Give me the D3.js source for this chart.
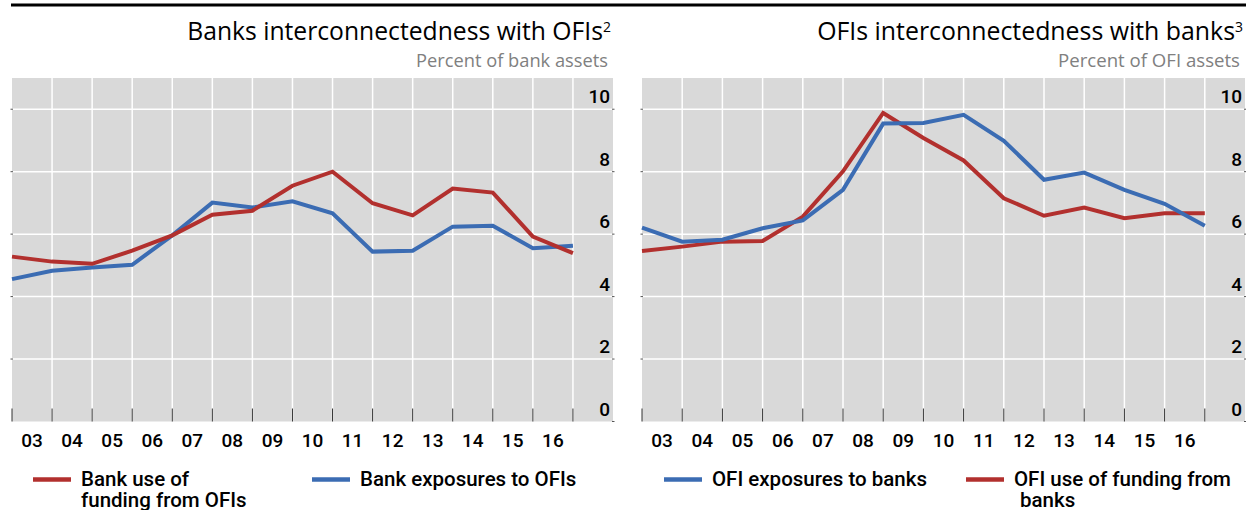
<!DOCTYPE html>
<html>
<head>
<meta charset="utf-8">
<script src="https://cdn.jsdelivr.net/npm/d3@7"></script>
<style>
  html, body { margin: 0; padding: 0; background: #ffffff; }
  svg { display: block; }
  text { font-family: Roboto, "Noto Sans", sans-serif; }
  .ttl { font-family: "Open Sans", "Noto Sans", sans-serif; }
</style>
</head>
<body>
<svg id="chart" width="1246" height="510"></svg>
<script>
// ---- data ----
const years = [2003, 2004, 2005, 2006, 2007, 2008, 2009, 2010, 2011, 2012, 2013, 2014, 2015, 2016, 2017];
const yearLabels = ["03", "04", "05", "06", "07", "08", "09", "10", "11", "12", "13", "14", "15", "16"];
const yTicks = [0, 2, 4, 6, 8, 10];

const bankUseOfFunding = [5.28, 5.12, 5.05, 5.47, 5.96, 6.62, 6.75, 7.55, 8.00, 6.99, 6.60, 7.46, 7.33, 5.92, 5.39];
const bankExposures    = [4.56, 4.83, 4.93, 5.02, 5.96, 7.01, 6.85, 7.05, 6.67, 5.44, 5.47, 6.24, 6.27, 5.55, 5.63];
const ofiExposures     = [6.21, 5.76, 5.82, 6.19, 6.44, 7.42, 9.54, 9.56, 9.82, 8.99, 7.74, 7.97, 7.42, 6.97, 6.27];
const ofiUseOfFunding  = [5.46, 5.60, 5.76, 5.78, 6.56, 8.01, 9.88, 9.08, 8.36, 7.15, 6.59, 6.85, 6.51, 6.67, 6.67];

const RED = "#b2302e";
const BLUE = "#3b6cb3";

const svg = d3.select("#chart");

// top rule
svg.append("line")
  .attr("x1", 11).attr("x2", 1246).attr("y1", 5).attr("y2", 5)
  .attr("stroke", "#000").attr("stroke-width", 3);

const panels = [
  {
    left: 12, right: 613,
    title: "Banks interconnectedness with OFIs", sup: "2",
    subtitle: "Percent of bank assets",
    titleWidth: 416, subWidth: 192,
    series: [
      { values: bankExposures, color: BLUE },
      { values: bankUseOfFunding, color: RED }
    ],
    legend: [
      { lines: ["Bank use of", "funding from OFIs"], color: RED, x: 33, indent: 0 },
      { lines: ["Bank exposures to OFIs"], color: BLUE, x: 312, indent: 0 }
    ]
  },
  {
    left: 642, right: 1245,
    title: "OFIs interconnectedness with banks", sup: "3",
    subtitle: "Percent of OFI assets",
    titleWidth: 418, subWidth: 182,
    series: [
      { values: ofiUseOfFunding, color: RED },
      { values: ofiExposures, color: BLUE }
    ],
    legend: [
      { lines: ["OFI exposures to banks"], color: BLUE, x: 664, indent: 0 },
      { lines: ["OFI use of funding from", "banks"], color: RED, x: 966, indent: 6 }
    ]
  }
];

const plotTop = 78, plotBottom = 421.5;

function fitFont(sel, base, target) {
  sel.attr("font-size", base);
  const w = sel.node().getComputedTextLength();
  if (w > 0) sel.attr("font-size", Math.max(base * 0.8, Math.min(base * 1.25, base * target / w)));
}

panels.forEach(p => {
  const g = svg.append("g");
  const x = d3.scaleLinear().domain([2003, 2018]).range([p.left, p.right]);
  const y = d3.scaleLinear().domain([0, 11]).range([plotBottom, plotTop]);

  // background
  g.append("rect")
    .attr("x", x(2003)).attr("y", y(11))
    .attr("width", x(2018) - x(2003)).attr("height", y(0) - y(11))
    .attr("fill", "#d9d9d9");

  // horizontal gridlines
  g.selectAll(".hg").data(yTicks.filter(v => v > 0)).join("line")
    .attr("x1", x(2003)).attr("x2", x(2018))
    .attr("y1", d => y(d)).attr("y2", d => y(d))
    .attr("stroke", "#ffffff").attr("stroke-width", 1.5);

  // vertical gridlines
  g.selectAll(".vg").data(years.slice(1)).join("line")
    .attr("x1", d => x(d)).attr("x2", d => x(d))
    .attr("y1", y(11)).attr("y2", y(0))
    .attr("stroke", "#ffffff").attr("stroke-width", 1.5);

  // small edge ticks at gridlines
  g.selectAll(".lt").data(yTicks.filter(v => v > 0)).join("line")
    .attr("x1", x(2003) - 1.5).attr("x2", x(2003) + 1)
    .attr("y1", d => y(d)).attr("y2", d => y(d))
    .attr("stroke", "#555").attr("stroke-width", 1);
  g.selectAll(".rt").data(yTicks).join("line")
    .attr("x1", x(2018) - 1).attr("x2", x(2018) + 1.5)
    .attr("y1", d => y(d)).attr("y2", d => y(d))
    .attr("stroke", "#555").attr("stroke-width", 1);

  // bottom tick marks
  g.selectAll(".bt").data(years).join("line")
    .attr("x1", d => x(d)).attr("x2", d => x(d))
    .attr("y1", y(0) - 13).attr("y2", y(0))
    .attr("stroke", "#333").attr("stroke-width", 1);

  // y tick labels (inside, right)
  g.selectAll(".yl").data(yTicks).join("text")
    .attr("x", x(2018) - 3).attr("y", d => y(d) - 6)
    .attr("text-anchor", "end")
    .attr("font-size", 19).attr("font-weight", 500)
    .attr("fill", "#000")
    .text(d => d);

  // x labels
  g.selectAll(".xl").data(yearLabels).join("text")
    .attr("x", (d, i) => x(years[i] + 0.5)).attr("y", 446.5)
    .attr("text-anchor", "middle")
    .attr("font-size", 19).attr("font-weight", 500)
    .attr("fill", "#000")
    .text(d => d);

  // lines
  const line = d3.line().x((d, i) => x(years[i])).y(d => y(d));
  p.series.forEach(s => {
    g.append("path")
      .attr("d", line(s.values))
      .attr("fill", "none")
      .attr("stroke", s.color)
      .attr("stroke-width", 4)
      .attr("stroke-linejoin", "miter");
  });

  // title
  const t = g.append("text").attr("class", "ttl")
    .attr("x", x(2018) - 2).attr("y", 40)
    .attr("text-anchor", "end")
    .attr("fill", "#000");
  t.append("tspan").text(p.title);
  fitFont(t, 23, p.titleWidth);
  t.append("tspan").attr("font-size", 14).attr("dy", -8).text(p.sup);

  const sub = g.append("text").attr("class", "ttl")
    .attr("x", x(2018) - 5).attr("y", 67)
    .attr("text-anchor", "end")
    .attr("fill", "#808080")
    .text(p.subtitle);
  fitFont(sub, 17.5, p.subWidth);

  // legend
  p.legend.forEach(l => {
    g.append("line")
      .attr("x1", l.x).attr("x2", l.x + 38)
      .attr("y1", 479.5).attr("y2", 479.5)
      .attr("stroke", l.color).attr("stroke-width", 4.5);
    l.lines.forEach((ln, k) => {
      g.append("text")
        .attr("x", l.x + 48 + (k > 0 ? l.indent : 0))
        .attr("y", 485.5 + k * 21.5)
        .attr("font-size", 20.5).attr("font-weight", 500)
        .attr("fill", "#000")
        .text(ln);
    });
  });
});
</script>
</body>
</html>
